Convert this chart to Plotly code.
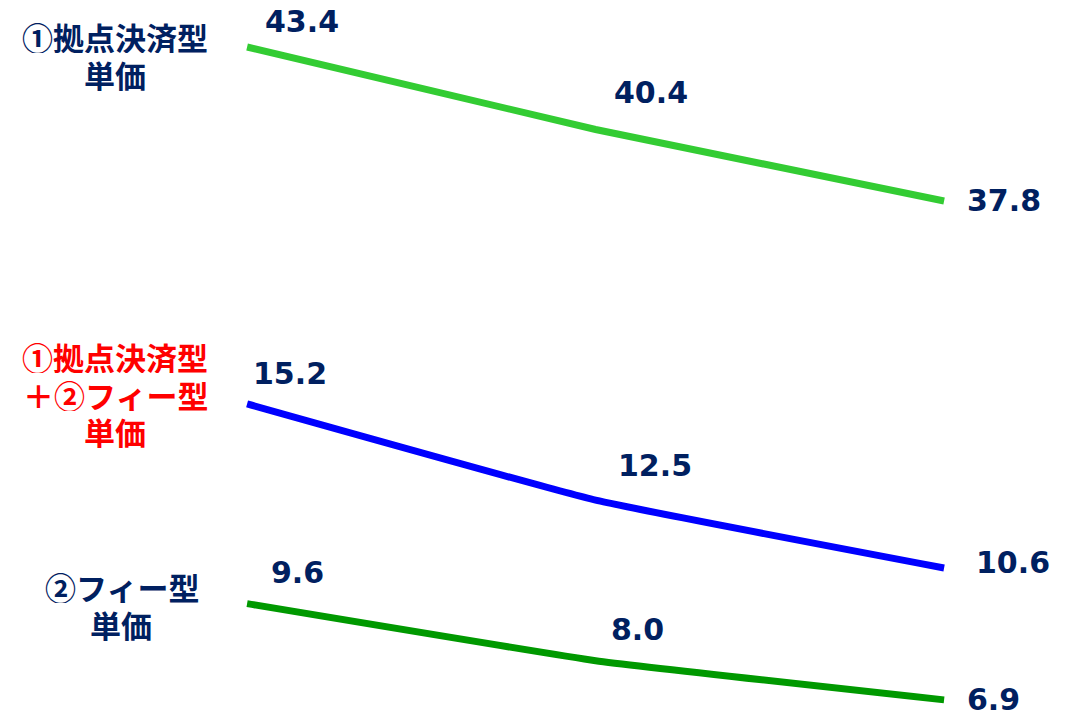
import plotly.graph_objects as go

# three periods, left to right
periods = [0, 1, 2]

# unit prices per type
base_price = [43.4, 40.4, 37.8]      # ①拠点決済型 単価
combined_price = [15.2, 12.5, 10.6]  # ①+② 単価
fee_price = [9.6, 8.0, 6.9]          # ②フィー型 単価

# left-hand labels, one entry per text line
label_lines = ["①拠点決済型", "単価", "①拠点決済型", "＋②フィー型", "単価", "②フィー型", "単価"]

NAVY = "#002060"
NUM_FONT = dict(family="DejaVu Sans", size=30, color=NAVY)
JP_FONT = "Noto Sans CJK JP"

fig = go.Figure()

lines = [
    (base_price, "#33CC33", "y"),
    (combined_price, "#0000FF", "y2"),
    (fee_price, "#009900", "y2"),
]
for vals, color, yax in lines:
    fig.add_trace(go.Scatter(
        x=periods, y=vals, yaxis=yax, mode="lines",
        line=dict(color=color, width=7, shape="spline", smoothing=0.3),
        hoverinfo="skip", showlegend=False,
    ))

# value labels (pixel offsets from each point)
offsets = [
    [(55, 26), (55, 37), (60, 1)],
    [(43, 30), (59, 35), (69, 5)],
    [(50, 31), (42, 31), (49, 0)],
]
for (vals, color, yax), offs in zip(lines, offsets):
    for xv, yv, (dx, dy) in zip(periods, vals, offs):
        fig.add_annotation(
            x=xv, y=yv, xref="x", yref=yax, text="<b>%.1f</b>" % yv,
            showarrow=False, xshift=dx, yshift=dy,
            xanchor="center", yanchor="middle", font=NUM_FONT,
        )

# series labels on the left, line by line
label_pos = [(115, 36), (115, 74), (115, 356), (115, 394), (115, 431), (122, 586), (121, 624)]
label_colors = [NAVY, NAVY, "#FF0000", "#FF0000", "#FF0000", NAVY, NAVY]
for txt, (px, py), c in zip(label_lines, label_pos, label_colors):
    fig.add_annotation(
        x=px / 1080, y=1 - py / 717, xref="paper", yref="paper",
        text="<b>" + txt + "</b>", showarrow=False,
        xanchor="center", yanchor="middle", height=34, borderpad=0,
        font=dict(family=JP_FONT, size=31, color=c),
    )

fig.update_layout(
    width=1080, height=717,
    margin=dict(l=0, r=0, t=0, b=0),
    paper_bgcolor="white", plot_bgcolor="white",
    xaxis=dict(range=[-0.709, 2.390], visible=False, fixedrange=True),
    yaxis=dict(domain=[0.6, 1.0], range=[34.68, 45.11], visible=False),
    yaxis2=dict(domain=[0.0, 0.55], range=[6.42, 17.48], visible=False),
)

fig.write_html("out.html", config={"displayModeBar": False},
               post_script="document.body.style.margin='0';")
